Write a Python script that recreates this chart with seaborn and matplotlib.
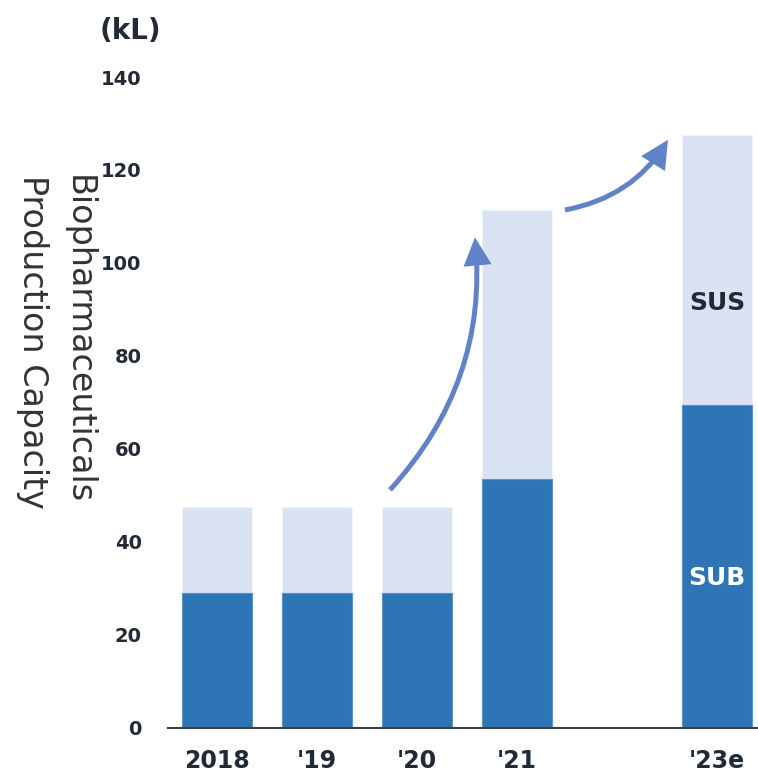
import numpy as np
import pandas as pd
import matplotlib
matplotlib.use("Agg")
import matplotlib.pyplot as plt
from matplotlib.patches import FancyArrowPatch
import seaborn as sns

# Biopharmaceutical production capacity (kL), single-use (SUB) vs stainless (SUS)
years = ["2018", "'19", "'20", "'21", "'23e"]
positions = [0, 1, 2, 3, 5]
sub_kl = [29.0, 29.0, 29.0, 53.5, 69.5]
sus_kl = [18.5, 18.5, 18.5, 58.0, 58.0]

sub_color = "#2e75b6"
sus_color = "#dae3f3"
text_dark = "#222a35"
arrow_color = "#6083c7"

sns.set_theme(style="white")
plt.rcParams["font.family"] = ["DejaVu Sans"]

df = pd.DataFrame({
    "pos": positions,
    "year": years,
    "SUB": sub_kl,
    "SUS": sus_kl,
})
df["total"] = df["SUB"] + df["SUS"]

fig = plt.figure(figsize=(7.58, 7.77), dpi=100)
ax = fig.add_axes([0.2216, 0.0631, 0.7784, 0.8378])

sns.barplot(data=df, x="pos", y="total", native_scale=True, width=0.7,
            color=sus_color, saturation=1, edgecolor="#eef2fa", linewidth=0.8, ax=ax)
sns.barplot(data=df, x="pos", y="SUB", native_scale=True, width=0.7,
            color=sub_color, saturation=1, edgecolor="#5a93c8", linewidth=0.8, ax=ax)

ax.set_xlim(-0.49, 5.41)
ax.set_ylim(0, 140)
ax.set_yticks(np.arange(0, 141, 20))
ax.set_yticklabels([str(v) for v in range(0, 141, 20)],
                   fontsize=14, fontweight="bold", color=text_dark)
ax.set_xticks(positions)
ax.set_xticklabels(years, fontsize=17, fontweight="bold", color=text_dark)
ax.tick_params(axis="y", length=0, pad=19)
ax.tick_params(axis="x", length=0, pad=15)
ax.set_xlabel("")
ax.set_ylabel("")

for side in ["left", "right", "top"]:
    ax.spines[side].set_visible(False)
ax.spines["bottom"].set_color("#3a3f48")
ax.spines["bottom"].set_linewidth(1.5)

# Unit label and rotated axis title
fig.text(130 / 758, 1 - 31 / 777, "(kL)", fontsize=20, fontweight="bold",
         color=text_dark, ha="center", va="center")
fig.text(55 / 758, 1 - 342 / 777, "Biopharmaceuticals\nProduction Capacity",
         fontsize=24, color="#333333", rotation=270, ha="center", va="center",
         multialignment="left", linespacing=1.5)

# Segment labels on the forecast bar
ax.text(5, 91.4, "SUS", fontsize=18, fontweight="bold", color=text_dark,
        ha="center", va="center")
ax.text(5, 32.3, "SUB", fontsize=18, fontweight="bold", color="white",
        ha="center", va="center")

# Growth arrows
for (x0, y0), (x1, y1) in [((1.73, 51.2), (2.58, 105.5)),
                           ((3.48, 111.4), (4.51, 126.5))]:
    arr = FancyArrowPatch((x0, y0), (x1, y1),
                          connectionstyle="arc3,rad=0.22",
                          arrowstyle="-|>,head_length=9,head_width=4.5",
                          color=arrow_color, linewidth=3.6,
                          joinstyle="miter", capstyle="butt",
                          shrinkA=0, shrinkB=0, mutation_scale=1.6)
    ax.add_patch(arr)

fig.savefig("out.png", dpi=100)
